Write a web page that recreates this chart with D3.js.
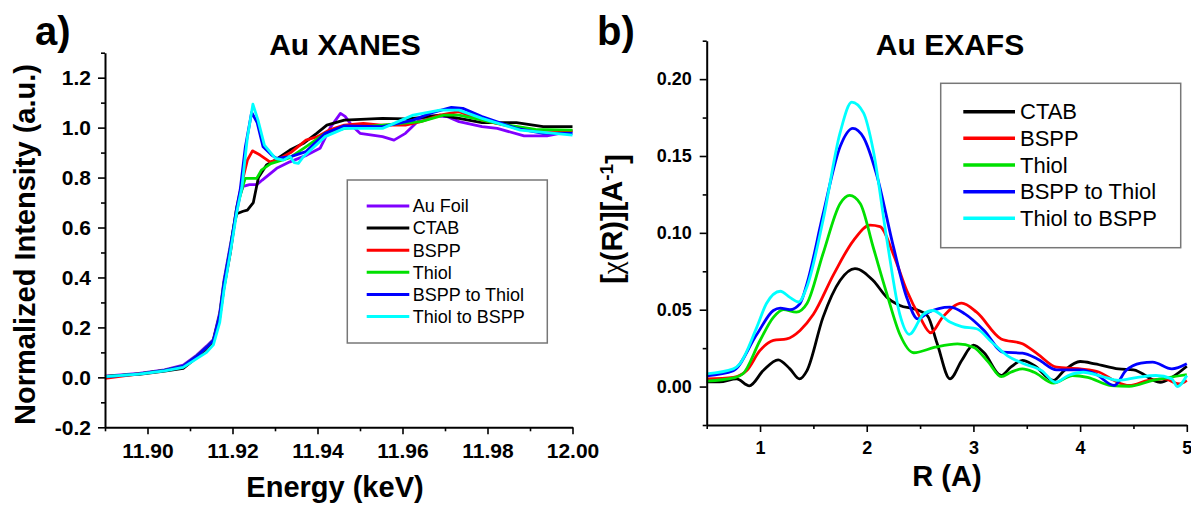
<!DOCTYPE html>
<html>
<head>
<meta charset="utf-8">
<script src="https://cdn.jsdelivr.net/npm/d3@7"></script>
<style>
  body { margin: 0; background: #fff; }
  svg text { font-family: "Liberation Sans", Arial, sans-serif; fill: #000; }
</style>
</head>
<body>
<div id="chart"></div>
<script>
// ---- XANES data (energy keV, normalized intensity) ----
const xanesNames = ["Au Foil", "CTAB", "BSPP", "Thiol", "BSPP to Thiol", "Thiol to BSPP"];
const xanesColors = ["#8000ff", "#000000", "#ff0000", "#00e000", "#0000ff", "#00ffff"];

const xanesAuFoil = [[11.890,0.005],[11.898,0.016],[11.904,0.030],[11.9084,0.049],[11.9116,0.089],[11.9139,0.125],[11.9155,0.152],[11.917,0.26],[11.918,0.39],[11.9195,0.53],[11.921,0.665],[11.9218,0.73],[11.9225,0.765],[11.924,0.772],[11.9258,0.772],[11.927,0.79],[11.9304,0.837],[11.9335,0.863],[11.9375,0.89],[11.9406,0.917],[11.943,1.0],[11.9454,1.057],[11.9465,1.045],[11.948,1.01],[11.950,0.977],[11.9553,0.964],[11.958,0.95],[11.9607,0.977],[11.9643,1.037],[11.967,1.047],[11.9706,1.044],[11.9733,1.024],[11.9787,1.004],[11.9823,0.997],[11.9886,0.967],[11.994,0.967],[12.0,0.987]];
const xanesCtab = [[11.890,0.004],[11.898,0.012],[11.904,0.025],[11.9084,0.036],[11.9116,0.080],[11.9139,0.115],[11.9155,0.145],[11.917,0.24],[11.918,0.36],[11.9195,0.50],[11.9205,0.62],[11.921,0.655],[11.9225,0.665],[11.9235,0.67],[11.9249,0.70],[11.9261,0.80],[11.928,0.85],[11.930,0.87],[11.9335,0.91],[11.9367,0.937],[11.9398,0.977],[11.9422,1.01],[11.9463,1.03],[11.9553,1.037],[11.9607,1.035],[11.9643,1.04],[11.9688,1.05],[11.9733,1.037],[11.9787,1.02],[11.9868,1.02],[11.9931,1.004],[12.0,1.004]];
const xanesBspp = [[11.890,-0.004],[11.898,0.014],[11.904,0.028],[11.9084,0.044],[11.9116,0.085],[11.9139,0.12],[11.9155,0.148],[11.917,0.25],[11.918,0.37],[11.9195,0.51],[11.921,0.68],[11.9225,0.80],[11.9235,0.87],[11.9247,0.907],[11.9265,0.89],[11.9288,0.863],[11.9305,0.87],[11.9337,0.90],[11.9373,0.95],[11.940,0.964],[11.9427,0.99],[11.9463,1.01],[11.9508,1.017],[11.955,1.01],[11.9607,1.01],[11.9643,1.024],[11.9688,1.05],[11.9733,1.064],[11.9787,1.03],[11.984,1.01],[11.9913,0.99],[12.0,0.987]];
const xanesThiol = [[11.890,0.003],[11.898,0.014],[11.904,0.028],[11.9084,0.045],[11.9116,0.085],[11.9139,0.12],[11.9155,0.148],[11.917,0.25],[11.918,0.38],[11.9195,0.52],[11.921,0.68],[11.9225,0.77],[11.923,0.797],[11.9257,0.797],[11.9268,0.83],[11.929,0.856],[11.9335,0.88],[11.937,0.92],[11.9418,0.977],[11.9463,0.997],[11.9553,1.01],[11.9643,1.024],[11.9697,1.05],[11.9733,1.05],[11.9823,1.017],[11.9913,0.993],[12.0,0.99]];
const xanesBsppToThiol = [[11.890,0.002],[11.898,0.014],[11.904,0.028],[11.9084,0.045],[11.9116,0.085],[11.9139,0.12],[11.9155,0.148],[11.917,0.25],[11.918,0.38],[11.9195,0.52],[11.921,0.68],[11.9218,0.75],[11.923,0.92],[11.9245,1.061],[11.9258,1.02],[11.9272,0.923],[11.9292,0.89],[11.9304,0.877],[11.9337,0.884],[11.9373,0.904],[11.9418,0.977],[11.9463,1.007],[11.9553,1.004],[11.9625,1.03],[11.967,1.06],[11.9715,1.081],[11.9742,1.077],[11.9787,1.044],[11.9868,0.997],[11.9931,0.977],[12.0,0.977]];
const xanesThiolToBspp = [[11.890,0.003],[11.898,0.013],[11.904,0.026],[11.9084,0.040],[11.9116,0.075],[11.9139,0.10],[11.9155,0.13],[11.917,0.22],[11.918,0.35],[11.9195,0.50],[11.921,0.66],[11.9222,0.76],[11.9235,0.96],[11.9248,1.094],[11.926,1.03],[11.9275,0.93],[11.9301,0.877],[11.932,0.87],[11.9335,0.885],[11.9345,0.86],[11.9355,0.857],[11.9365,0.88],[11.9418,0.964],[11.9463,0.997],[11.9553,0.997],[11.9625,1.05],[11.9688,1.07],[11.9733,1.07],[11.9787,1.037],[11.9877,0.99],[12.0,0.97]];
const xanesSeries = [xanesAuFoil, xanesCtab, xanesBspp, xanesThiol, xanesBsppToThiol, xanesThiolToBspp];

// ---- EXAFS data (R in A, |chi(R)|) ----
const exafsNames = ["CTAB", "BSPP", "Thiol", "BSPP to Thiol", "Thiol to BSPP"];
const exafsColors = ["#000000", "#ff0000", "#00e000", "#0000ff", "#00ffff"];

const exafsCtab = [[0.5,0.003],[0.62,0.003],[0.78,0.005],[0.9,0.0005],[1.03,0.0104],[1.17,0.0174],[1.28,0.0115],[1.37,0.005],[1.44,0.0104],[1.59,0.045],[1.75,0.069],[1.89,0.0767],[2.06,0.069],[2.19,0.058],[2.31,0.0528],[2.47,0.05],[2.57,0.046],[2.66,0.028],[2.78,0.005],[2.89,0.017],[3.0,0.027],[3.1,0.022],[3.26,0.0072],[3.35,0.0126],[3.46,0.017],[3.57,0.0137],[3.75,0.004],[3.85,0.0104],[4.0,0.0163],[4.14,0.0148],[4.36,0.0115],[4.5,0.0109],[4.75,0.0028],[4.86,0.006],[5.0,0.0132]];
const exafsBspp = [[0.5,0.005],[0.75,0.006],[0.875,0.0104],[1.0,0.0235],[1.125,0.03],[1.25,0.031],[1.375,0.0365],[1.5,0.047],[1.69,0.073],[1.875,0.095],[2.03,0.105],[2.125,0.104],[2.25,0.086],[2.375,0.0625],[2.5,0.045],[2.6,0.035],[2.71,0.045],[2.89,0.0543],[3.03,0.0484],[3.26,0.031],[3.46,0.0278],[3.6,0.0213],[3.78,0.0126],[4.0,0.0115],[4.18,0.0093],[4.32,0.0039],[4.46,0.0007],[4.64,0.004],[4.79,0.005],[4.93,0.0017],[5.0,0.004]];
const exafsThiol = [[0.5,0.0035],[0.75,0.0056],[0.84,0.0083],[1.0,0.03],[1.125,0.045],[1.22,0.05],[1.34,0.0484],[1.44,0.054],[1.59,0.0864],[1.75,0.119],[1.84,0.1244],[1.94,0.119],[2.06,0.0908],[2.19,0.06],[2.31,0.034],[2.44,0.022],[2.64,0.0256],[2.85,0.0278],[3.0,0.0256],[3.14,0.0159],[3.26,0.0065],[3.35,0.0093],[3.46,0.0115],[3.57,0.0093],[3.75,0.0022],[3.93,0.0072],[4.07,0.006],[4.29,0.0007],[4.46,0.0002],[4.68,0.004],[5.0,0.0078]];
const exafsBsppToThiol = [[0.5,0.007],[0.75,0.0104],[0.97,0.034],[1.125,0.0495],[1.19,0.051],[1.28,0.05],[1.375,0.054],[1.44,0.067],[1.59,0.112],[1.75,0.156],[1.87,0.168],[1.97,0.162],[2.09,0.1385],[2.25,0.091],[2.375,0.058],[2.48,0.044],[2.57,0.048],[2.78,0.0517],[2.92,0.0473],[3.1,0.0365],[3.28,0.0224],[3.46,0.0217],[3.6,0.018],[3.78,0.0109],[4.0,0.0109],[4.14,0.0083],[4.32,0.0007],[4.43,0.0104],[4.57,0.0152],[4.68,0.0159],[4.86,0.0115],[5.0,0.0148]];
const exafsThiolToBspp = [[0.5,0.0083],[0.75,0.0115],[0.81,0.0148],[0.97,0.0387],[1.06,0.054],[1.19,0.062],[1.28,0.058],[1.36,0.055],[1.44,0.065],[1.59,0.108],[1.75,0.165],[1.86,0.185],[1.97,0.178],[2.06,0.154],[2.19,0.095],[2.31,0.047],[2.4,0.034],[2.53,0.047],[2.62,0.0495],[2.78,0.042],[2.89,0.039],[3.03,0.0376],[3.17,0.029],[3.32,0.02],[3.46,0.0152],[3.64,0.0104],[3.77,0.0028],[3.89,0.0072],[4.03,0.0093],[4.21,0.0065],[4.36,0.004],[4.54,0.006],[4.71,0.0072],[4.86,0.005],[4.91,0.0],[5.0,0.0072]];
const exafsSeries = [exafsCtab, exafsBspp, exafsThiol, exafsBsppToThiol, exafsThiolToBspp];

// ---- tick values ----
const xanesXTicks = [11.90, 11.92, 11.94, 11.96, 11.98, 12.00];
const xanesXMinor = [11.89, 11.91, 11.93, 11.95, 11.97, 11.99];
const xanesYTicks = [-0.2, 0, 0.2, 0.4, 0.6, 0.8, 1.0, 1.2];
const xanesYMinor = [-0.1, 0.1, 0.3, 0.5, 0.7, 0.9, 1.1, 1.3];
const exafsXTicks = [1, 2, 3, 4, 5];
const exafsXMinor = [0.5, 1.5, 2.5, 3.5, 4.5];
const exafsYTicks = [0, 0.05, 0.10, 0.15, 0.20];
const exafsYMinor = [-0.025, 0.025, 0.075, 0.125, 0.175, 0.225];

const W = 1191, H = 505;
const svg = d3.select("#chart").append("svg")
    .attr("width", W).attr("height", H)
    .style("display", "block");

function drawPanel(opt) {
    const g = svg.append("g");
    const x = d3.scaleLinear().domain(opt.xDomain).range(opt.xRange);
    const y = d3.scaleLinear().domain(opt.yDomain).range(opt.yRange);

    // curves
    const line = d3.line()
        .x(d => x(d[0])).y(d => y(d[1]))
        .curve(opt.curve);
    opt.series.forEach((s, i) => {
        g.append("path")
            .attr("d", line(s))
            .attr("fill", "none")
            .attr("stroke", opt.colors[i])
            .attr("stroke-width", opt.lineWidth)
            .attr("stroke-linejoin", "round");
    });

    // minor ticks
    g.append("g")
        .attr("transform", `translate(0,${opt.yRange[0]})`)
        .call(d3.axisBottom(x).tickValues(opt.xMinor).tickSize(opt.minorTick).tickFormat("").tickSizeOuter(0))
        .call(a => a.select(".domain").remove());
    g.append("g")
        .attr("transform", `translate(${opt.xRange[0]},0)`)
        .call(d3.axisLeft(y).tickValues(opt.yMinor).tickSize(opt.minorTick).tickFormat("").tickSizeOuter(0))
        .call(a => a.select(".domain").remove());

    // major axes
    const xa = g.append("g")
        .attr("transform", `translate(0,${opt.yRange[0]})`)
        .call(d3.axisBottom(x).tickValues(opt.xTicks).tickSize(opt.majorTick)
            .tickPadding(opt.xPad).tickSizeOuter(0).tickFormat(opt.xFormat));
    const ya = g.append("g")
        .attr("transform", `translate(${opt.xRange[0]},0)`)
        .call(d3.axisLeft(y).tickValues(opt.yTicks).tickSize(opt.majorTick)
            .tickPadding(opt.yPad).tickSizeOuter(0).tickFormat(opt.yFormat));

    [xa, ya].forEach(a => {
        a.selectAll("text")
            .style("font-size", opt.tickFont + "px")
            .style("font-weight", "bold")
            .attr("fill", "#000");
    });
    g.selectAll(".domain").attr("stroke", "#000").attr("stroke-width", 2);
    g.selectAll(".tick line").attr("stroke", "#000").attr("stroke-width", 1.6);

    // title
    g.append("text")
        .attr("x", opt.titleX).attr("y", 55)
        .attr("text-anchor", "middle")
        .style("font-size", "30px").style("font-weight", "bold")
        .text(opt.title);

    // panel letter
    g.append("text")
        .attr("x", opt.letterX).attr("y", 45)
        .style("font-size", "40px").style("font-weight", "bold")
        .text(opt.letter);

    // x label
    g.append("text")
        .attr("x", opt.xLabelX).attr("y", opt.xLabelY)
        .attr("text-anchor", "middle")
        .style("font-size", "29px").style("font-weight", "bold")
        .text(opt.xLabel);

    // legend
    const lg = opt.legend;
    g.append("rect")
        .attr("x", lg.x).attr("y", lg.y).attr("width", lg.w).attr("height", lg.h)
        .attr("fill", "#fff").attr("stroke", "#777").attr("stroke-width", 1.5);
    opt.names.forEach((n, i) => {
        const yy = lg.row0 + i * lg.step;
        g.append("line")
            .attr("x1", lg.lx1).attr("x2", lg.lx2).attr("y1", yy).attr("y2", yy)
            .attr("stroke", opt.colors[i]).attr("stroke-width", lg.lw);
        g.append("text")
            .attr("x", lg.tx).attr("y", yy)
            .attr("dy", "0.35em")
            .style("font-size", lg.font + "px")
            .attr("fill", "#111")
            .text(n);
    });
    return g;
}

const left = drawPanel({
    xDomain: [11.89, 12.00], xRange: [105, 572.5],
    yDomain: [-0.2, 1.3], yRange: [427.3, 52.7],
    series: xanesSeries, colors: xanesColors, names: xanesNames,
    curve: d3.curveLinear, lineWidth: 2.8,
    xTicks: xanesXTicks, xMinor: xanesXMinor, yTicks: xanesYTicks, yMinor: xanesYMinor,
    xFormat: d3.format(".2f"), yFormat: d => d3.format(".1f")(d).replace("−", "-"),
    majorTick: 7, minorTick: 4, xPad: 9, yPad: 7, tickFont: 21,
    title: "Au XANES", titleX: 345, letter: "a)", letterX: 35,
    xLabel: "Energy (keV)", xLabelX: 335, xLabelY: 497,
    legend: { x: 347.3, y: 180, w: 200, h: 163, row0: 206, step: 22.1,
              lx1: 366.7, lx2: 409.3, tx: 412.7, font: 18, lw: 3 }
});

const right = drawPanel({
    xDomain: [0.5, 5], xRange: [706.7, 1186.8],
    yDomain: [-0.025, 0.225], yRange: [425, 40.7],
    series: exafsSeries, colors: exafsColors, names: exafsNames,
    curve: d3.curveMonotoneX, lineWidth: 2.8,
    xTicks: exafsXTicks, xMinor: exafsXMinor, yTicks: exafsYTicks, yMinor: exafsYMinor,
    xFormat: d3.format("d"), yFormat: d3.format(".2f"),
    majorTick: 7, minorTick: 4, xPad: 9, yPad: 8, tickFont: 18,
    title: "Au EXAFS", titleX: 950, letter: "b)", letterX: 597,
    xLabel: "R (A)", xLabelX: 947, xLabelY: 486,
    legend: { x: 940.7, y: 83.3, w: 240, h: 164.4, row0: 111.7, step: 26.65,
              lx1: 963.3, lx2: 1015, tx: 1020, font: 22, lw: 3.5 }
});

// y labels
svg.append("text")
    .attr("transform", "translate(35,244.5) rotate(-90)")
    .attr("text-anchor", "middle")
    .style("font-size", "29px").style("font-weight", "bold")
    .text("Normalized Intensity (a.u.)");

const yl = svg.append("text")
    .attr("transform", "translate(622,219) rotate(-90)")
    .attr("text-anchor", "middle")
    .style("font-size", "29px").style("font-weight", "bold");
yl.append("tspan").text("[");
yl.append("tspan").style("font-family", "'Liberation Serif', serif").style("font-weight", "normal").text("χ");
yl.append("tspan").text("(R)][A");
yl.append("tspan").attr("dy", "-0.45em").style("font-size", "19px").text("-1");
yl.append("tspan").attr("dy", "0.45em").text("]");
</script>
</body>
</html>
